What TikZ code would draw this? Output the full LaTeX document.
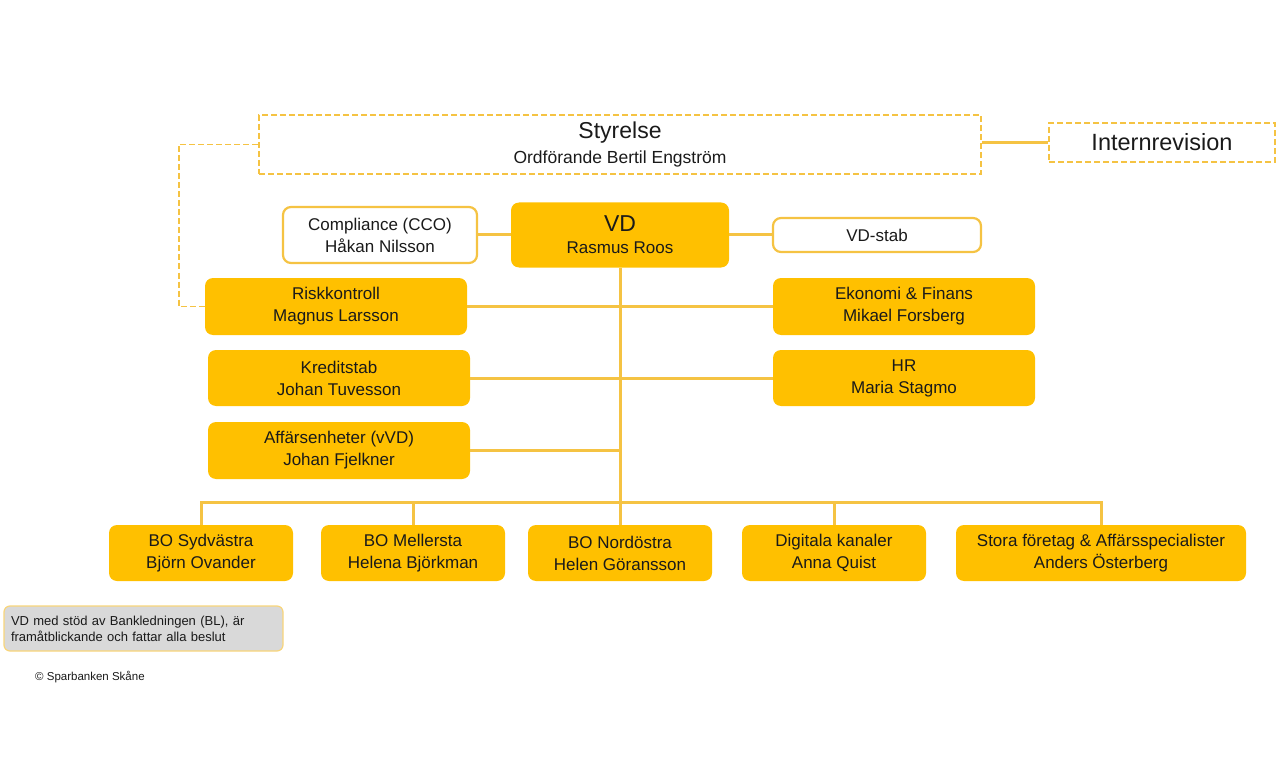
\documentclass[tikz,border=0pt]{standalone}
\usepackage{fontspec}
\setmainfont{Liberation Sans}
\definecolor{gold}{HTML}{FFC000}
\definecolor{goldline}{HTML}{F5C343}
\definecolor{notegrey}{HTML}{D9D9D9}
\definecolor{ink}{HTML}{1A1A1A}
\begin{document}
\begin{tikzpicture}[x=1pt, y=-1pt, text=ink,
		unit/.style={fill=gold, rounded corners=8pt, align=center, inner sep=0pt, font=\fontsize{17}{22}\selectfont},
		staff/.style={draw=goldline, line width=2.2pt, fill=white, rounded corners=8pt, align=center, inner sep=0pt, font=\fontsize{17}{22}\selectfont},
		board/.style={draw=goldline, line width=1.8pt, dash pattern=on 6pt off 3pt, align=center, inner sep=0pt},
		link/.style={draw=goldline, line width=3pt}]
	\useasboundingbox (0,0) rectangle (1280,778);

	\node[board, minimum width=722, minimum height=59, font=\fontsize{17.5}{25}\selectfont] at (620,144.5) (styr) {{\fontsize{23}{25}\selectfont Styrelse}\\Ordförande Bertil Engström};
	\node[board, minimum width=226, minimum height=39, font=\fontsize{23.5}{26}\selectfont] at (1162,142.5) (irev) {Internrevision};

	\node[staff, minimum width=194, minimum height=56] at (380,235) (cco) {Compliance (CCO)\\Håkan Nilsson};
	\node[unit, minimum width=218, minimum height=65] at (620,235) (vd) {{\fontsize{23}{25}\selectfont VD}\\Rasmus Roos};
	\node[staff, minimum width=208, minimum height=34] at (877,235) (stab) {VD-stab};

	\node[unit, minimum width=262, minimum height=57] at (336,306.5) (risk) {Riskkontroll\\Magnus Larsson};
	\node[unit, minimum width=262, minimum height=57] at (904,306.5) (eko) {Ekonomi \& Finans\\Mikael Forsberg};
	\node[unit, minimum width=262, minimum height=56] at (339,378) (kred) {Kreditstab\\Johan Tuvesson};
	\node[unit, minimum width=262, minimum height=56] at (904,378) (hr) {HR\\Maria Stagmo};
	\node[unit, minimum width=262, minimum height=57] at (339,450.5) (aff) {Affärsenheter (vVD)\\Johan Fjelkner};

	\node[unit, minimum width=184, minimum height=56] at (201,553) (syd) {BO Sydvästra\\Björn Ovander};
	\node[unit, minimum width=184, minimum height=56] at (413,553) (mel) {BO Mellersta\\Helena Björkman};
	\node[unit, minimum width=184, minimum height=56] at (620,553) (nord) {BO Nordöstra\\Helen Göransson};
	\node[unit, minimum width=184, minimum height=56] at (834,553) (dig) {Digitala kanaler\\Anna Quist};
	\node[unit, minimum width=290, minimum height=56] at (1101,553) (stora) {Stora företag \& Affärsspecialister\\Anders Österberg};

	\node[draw=goldline!70, line width=1.2pt, fill=notegrey, rounded corners=6pt, minimum width=279, minimum height=45, text width=265, align=left, inner sep=0pt, font=\fontsize{13}{16}\selectfont] at (143.5,628.5) (note) {VD med stöd av Bankledningen (BL), är\\framåtblickande och fattar alla beslut};
	\node[anchor=west, inner sep=0pt, font=\fontsize{11.5}{13}\selectfont] at (35,677) (copy) {© Sparbanken Skåne};

	\coordinate (bus) at (620,502);

	\draw[link] (irev.west) -- (irev.west -| styr.east);
	\draw[link, line width=1.8pt, dash pattern=on 6pt off 3pt] (styr.west) -- ++(-79,0) |- (risk.west);
	\draw[link] (cco.east) -- (vd.west);
	\draw[link] (vd.east) -- (stab.west);
	\draw[link] (vd.south) -- (nord.north);
	\draw[link] (risk.east) -- (eko.west);
	\draw[link] (kred.east) -- (hr.west);
	\draw[link] (aff.east) -- (aff.east -| vd.south);
	\draw[link] (syd.north) |- (bus) -| (stora.north);
	\draw[link] (mel.north) -- (mel.north |- bus);
	\draw[link] (dig.north) -- (dig.north |- bus);
\end{tikzpicture}
\end{document}
